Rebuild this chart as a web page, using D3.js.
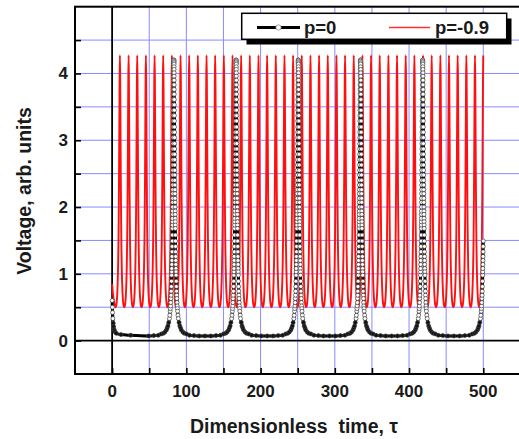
<!DOCTYPE html>
<html>
<head>
<meta charset="utf-8">
<script src="https://cdn.jsdelivr.net/npm/d3@7"></script>
<style>
  body { margin: 0; background: #fff; }
  svg { display: block; }
  text { font-family: "Liberation Sans", Arial, sans-serif; font-weight: bold; fill: #1a1a1a; }
</style>
</head>
<body>
<svg id="chart" width="519" height="439"></svg>
<script>
// Series names as shown in the legend
const seriesNames = ["p=0", "p=-0.9"];

// Tick labels
const xTickLabels = [0, 100, 200, 300, 400, 500];
const yTickLabels = [0, 1, 2, 3, 4];

// p=0 : spike instants and the one-sided spike shape (offset from spike centre -> voltage)
const blackSpikeTimes = [83.2, 167.0, 250.8, 334.6, 418.4, 502.2];
const blackShapeOffsets = [0, 0.05, 0.1, 0.15, 0.2, 0.25, 0.3, 0.35, 0.4, 0.45, 0.5, 0.55, 0.6, 0.65, 0.7,
  0.75, 0.8, 0.85, 0.9, 0.95, 1.0, 1.05, 1.1, 1.15, 1.2, 1.25, 1.3, 1.35, 1.4, 1.45, 1.5, 1.55, 1.6,
  1.65, 1.7, 1.75, 1.8, 1.85, 1.9, 1.95, 2.0, 2.1, 2.2, 2.3, 2.4, 2.5, 2.6, 2.7, 2.8, 2.9, 3.0, 3.2,
  3.4, 3.6, 3.8, 4.0, 4.25, 4.5, 4.75, 5.0, 5.5, 6, 7, 8, 9, 10, 12, 14, 17, 21, 27, 34];
const blackShapeValues = [4.20, 4.20, 4.18, 4.16, 4.14, 4.10, 4.06, 4.01, 3.96, 3.90, 3.83, 3.76, 3.69, 3.61, 3.53,
  3.45, 3.37, 3.29, 3.20, 3.12, 3.04, 2.95, 2.87, 2.79, 2.71, 2.63, 2.55, 2.48, 2.40, 2.33, 2.26, 2.20, 2.13,
  2.07, 2.00, 1.94, 1.89, 1.83, 1.78, 1.73, 1.68, 1.58, 1.49, 1.41, 1.33, 1.26, 1.20, 1.14, 1.08, 1.03, 0.98, 0.89,
  0.81, 0.74, 0.68, 0.63, 0.57, 0.52, 0.48, 0.44, 0.38, 0.33, 0.27, 0.22, 0.19, 0.16, 0.13, 0.11, 0.10, 0.08, 0.075, 0.07];
const blackBaseline = 0.07;
const blackStartTimes = [0, 0.3, 0.6, 1, 1.5, 2, 3, 4, 5.5, 12, 25];
const blackStartValues = [0.6, 0.5, 0.42, 0.33, 0.26, 0.21, 0.16, 0.13, 0.11, 0.09, 0.08];

// p=-0.9 : peak instants and the one-sided peak shape
const redPeakTimes = [10.5, 22.2, 33.8, 45.5, 57.2, 68.8, 80.5, 92.2, 103.8, 115.5, 127.2, 138.8, 150.5,
  162.2, 173.8, 185.5, 197.2, 208.8, 220.5, 232.2, 243.8, 255.5, 267.2, 278.8, 290.5, 302.2, 313.8, 325.5,
  337.2, 348.8, 360.5, 372.2, 383.8, 395.5, 407.2, 418.8, 430.5, 442.2, 453.8, 465.5, 477.2, 488.8, 500.0];
const redShapeOffsets = [0, 0.4, 0.8, 1.2, 1.6, 2.0, 2.5, 3.0, 3.5, 4.0, 4.5, 5.0];
const redShapeValues = [4.27, 3.93, 3.18, 2.43, 1.85, 1.43, 1.09, 0.87, 0.72, 0.62, 0.56, 0.52];
const redTrough = 0.5;
const redStartTimes = [0, 1.2, 2.4, 3.6, 4.7];
const redStartValues = [0.85, 0.7, 0.6, 0.53, 0.5];

const tEnd = 500;

// Assemble a time series from start points plus a mirrored shape placed at each centre
function assemble(startT, startV, centres, offs, vals, trough) {
  const pts = startT.map((t, i) => [t, startV[i]]);
  const lastStart = d3.max(startT);
  const extra = [];
  centres.forEach((c, k) => {
    offs.forEach((o, i) => {
      extra.push([c - o, vals[i]]);
      if (o > 0) extra.push([c + o, vals[i]]);
    });
    if (k < centres.length - 1) extra.push([(c + centres[k + 1]) / 2, trough]);
  });
  extra.filter(p => p[0] > lastStart && p[0] <= tEnd)
       .sort((a, b) => a[0] - b[0])
       .forEach(p => pts.push(p));
  return pts;
}

const blackData = assemble(blackStartTimes, blackStartValues, blackSpikeTimes,
                           blackShapeOffsets, blackShapeValues, blackBaseline);
const redData = assemble(redStartTimes, redStartValues, redPeakTimes,
                         redShapeOffsets, redShapeValues, redTrough);

const svg = d3.select("#chart");
const pL = 75, pR = 520.4, pT = 6.7, pB = 374;
const x = d3.scaleLinear().domain([-50, 550]).range([pL, pR]);
const y = d3.scaleLinear().domain([-0.5, 5]).range([pB, pT]);

const gridColor = "#8a8aff";
const xMinor = d3.range(-50, 551, 50);
const yMinor = d3.range(-0.5, 5.01, 0.5);

// grid
svg.append("g").selectAll("line").data(xMinor.filter(v => v > -50 && v < 550 && v !== 0))
  .join("line").attr("x1", d => x(d)).attr("x2", d => x(d)).attr("y1", pT).attr("y2", pB)
  .attr("stroke", gridColor).attr("stroke-width", 1);
svg.append("g").selectAll("line").data(yMinor.filter(v => v > -0.5 && v < 5 && Math.abs(v) > 1e-9))
  .join("line").attr("y1", d => y(d)).attr("y2", d => y(d)).attr("x1", pL).attr("x2", pR)
  .attr("stroke", gridColor).attr("stroke-width", 1);

// zero lines
svg.append("line").attr("x1", x(0)).attr("x2", x(0)).attr("y1", pT).attr("y2", pB)
  .attr("stroke", "#000").attr("stroke-width", 1.8);
svg.append("line").attr("x1", pL).attr("x2", pR).attr("y1", y(0)).attr("y2", y(0))
  .attr("stroke", "#000").attr("stroke-width", 1.8);

// series p=-0.9
const line = d3.line().x(d => x(d[0])).y(d => y(d[1])).curve(d3.curveMonotoneX);
svg.append("path").datum(redData).attr("d", line)
  .attr("fill", "none").attr("stroke", "#ff1010").attr("stroke-width", 1.9)
  .attr("stroke-linejoin", "round");

// series p=0 with open markers
svg.append("path").datum(blackData).attr("d", line)
  .attr("fill", "none").attr("stroke", "#000").attr("stroke-width", 3);
svg.append("g").selectAll("circle").data(blackData).join("circle")
  .attr("cx", d => x(d[0])).attr("cy", d => y(d[1])).attr("r", 2)
  .attr("fill", d => d[1] > 0.3 ? "#fff" : "#111")
  .attr("stroke", "#444").attr("stroke-width", 0.7);

// frame
svg.append("rect").attr("x", pL).attr("y", pT).attr("width", pR - pL).attr("height", pB - pT)
  .attr("fill", "none").attr("stroke", "#000").attr("stroke-width", 2);

// inward ticks
const xAxis = d3.axisBottom(x).tickValues(xMinor.filter(v => v > -50 && v < 550))
  .tickSize(-6).tickFormat("");
const gx = svg.append("g").attr("transform", `translate(0,${pB})`).call(xAxis);
gx.select(".domain").remove();
gx.selectAll("line").attr("stroke", "#000").attr("stroke-width", 1.6);

const yAxis = d3.axisLeft(y).tickValues(yMinor.filter(v => v > -0.5 && v < 5))
  .tickSize(-6).tickFormat("");
const gy = svg.append("g").attr("transform", `translate(${pL},0)`).call(yAxis);
gy.select(".domain").remove();
gy.selectAll("line").attr("stroke", "#000").attr("stroke-width", 1.6);

// tick labels
svg.append("g").selectAll("text").data(xTickLabels).join("text")
  .attr("x", d => x(d)).attr("y", 397).attr("text-anchor", "middle")
  .style("font-size", "17px").text(d => d);
svg.append("g").selectAll("text").data(yTickLabels).join("text")
  .attr("x", 68).attr("y", d => y(d) + 6).attr("text-anchor", "end")
  .style("font-size", "17px").text(d => d);

// axis titles
svg.append("text").attr("x", 294).attr("y", 433).attr("text-anchor", "middle")
  .style("font-size", "19.5px").style("white-space", "pre").text("Dimensionless  time, \u03c4");
svg.append("text").attr("transform", "translate(31,191) rotate(-90)").attr("text-anchor", "middle")
  .style("font-size", "19.5px").text("Voltage, arb. units");

// legend
const lg = svg.append("g");
lg.append("rect").attr("x", 246.5).attr("y", 18.5).attr("width", 265).attr("height", 26).attr("fill", "#000");
lg.append("rect").attr("x", 241.7).attr("y", 13.3).attr("width", 265).attr("height", 26)
  .attr("fill", "#fff").attr("stroke", "#000").attr("stroke-width", 1.5);
lg.append("line").attr("x1", 257).attr("x2", 300).attr("y1", 27.5).attr("y2", 27.5)
  .attr("stroke", "#000").attr("stroke-width", 3);
lg.append("circle").attr("cx", 278.5).attr("cy", 27.5).attr("r", 2.6)
  .attr("fill", "#fff").attr("stroke", "#888").attr("stroke-width", 0.8);
lg.append("text").attr("x", 304).attr("y", 34).style("font-size", "18.5px").text(seriesNames[0]);
lg.append("line").attr("x1", 389).attr("x2", 430).attr("y1", 27.5).attr("y2", 27.5)
  .attr("stroke", "#ff3030").attr("stroke-width", 1.5);
lg.append("text").attr("x", 435).attr("y", 34).style("font-size", "18.5px").text(seriesNames[1]);
</script>
</body>
</html>
